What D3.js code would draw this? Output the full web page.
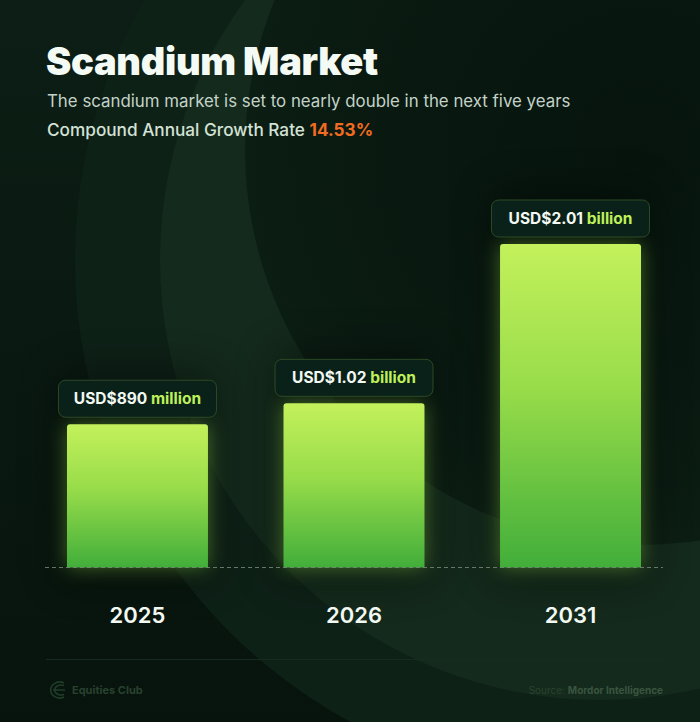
<!DOCTYPE html>
<html>
<head>
<meta charset="utf-8">
<script src="https://cdn.jsdelivr.net/npm/d3@7"></script>
<style>
  html, body { margin: 0; padding: 0; background: #0a1a12; }
  svg { display: block; font-family: Inter, "Noto Sans", sans-serif; }
</style>
</head>
<body>
<svg id="chart" width="700" height="722"></svg>
<script>
const years = ["2025", "2026", "2031"];
const values = [0.89, 1.02, 2.01]; // USD billion
const amountLabels = ["USD$890", "USD$1.02", "USD$2.01"];
const unitLabels = ["million", "billion", "billion"];

const width = 700;
const height = 722;
const margin = {top: 244, right: 37, bottom: 154.5, left: 45};

const svg = d3.select("#chart");
const defs = svg.append("defs");

// background
const bgGrad = defs.append("linearGradient")
    .attr("id", "bg").attr("x1", 0).attr("y1", 0).attr("x2", 0).attr("y2", 1);
bgGrad.append("stop").attr("offset", 0).attr("stop-color", "#0c1e15");
bgGrad.append("stop").attr("offset", 1).attr("stop-color", "#07140d");

const darkGrad = defs.append("radialGradient")
    .attr("id", "dark").attr("cx", 0.5).attr("cy", 0.5).attr("r", 0.5);
darkGrad.append("stop").attr("offset", 0).attr("stop-color", "#06140d");
darkGrad.append("stop").attr("offset", 0.85).attr("stop-color", "#0a1b12");
darkGrad.append("stop").attr("offset", 1).attr("stop-color", "#0c1e14");

svg.append("rect").attr("width", width).attr("height", height).attr("fill", "url(#bg)");

const bg = svg.append("g");
bg.append("circle").attr("cx", 600).attr("cy", 260).attr("r", 525).attr("fill", "#0e2117");
bg.append("circle").attr("cx", 600).attr("cy", 260).attr("r", 440).attr("fill", "#142a1c");
bg.append("circle").attr("cx", 640).attr("cy", 150).attr("r", 395).attr("fill", "url(#dark)");

// bar gradient + glow
const barGrad = defs.append("linearGradient")
    .attr("id", "barGrad").attr("x1", 0).attr("y1", 0).attr("x2", 0).attr("y2", 1);
barGrad.append("stop").attr("offset", 0).attr("stop-color", "#c3f15b");
barGrad.append("stop").attr("offset", 0.45).attr("stop-color", "#98dc4a");
barGrad.append("stop").attr("offset", 1).attr("stop-color", "#41ae3a");

defs.append("filter").attr("id", "glow")
    .attr("x", -0.5).attr("y", -0.5).attr("width", 2).attr("height", 2)
  .append("feGaussianBlur").attr("stdDeviation", 10);
defs.append("filter").attr("id", "shade")
    .attr("x", -0.6).attr("y", -0.6).attr("width", 2.2).attr("height", 2.2)
  .append("feGaussianBlur").attr("stdDeviation", 22);

const x = d3.scaleBand()
    .domain(years)
    .range([margin.left, width - margin.right])
    .paddingInner(0.349)
    .paddingOuter(0.1016);

const y = d3.scaleLinear()
    .domain([0, 2.01])
    .range([height - margin.bottom, margin.top]);

const data = years.map((d, i) => ({year: d, value: values[i], amount: amountLabels[i], unit: unitLabels[i]}));

// shadows and glows
svg.append("g").selectAll("rect")
  .data(data)
  .join("rect")
    .attr("x", d => x(d.year) - 6)
    .attr("y", d => y(d.value) - 50)
    .attr("width", x.bandwidth() + 12)
    .attr("height", d => y(0) - y(d.value) + 60)
    .attr("fill", "#000")
    .attr("opacity", 0.45)
    .attr("filter", "url(#shade)");

svg.append("g").selectAll("rect")
  .data(data)
  .join("rect")
    .attr("x", d => x(d.year))
    .attr("y", d => y(d.value))
    .attr("width", x.bandwidth())
    .attr("height", d => y(0) - y(d.value))
    .attr("fill", "#8fd94a")
    .attr("opacity", 0.45)
    .attr("filter", "url(#glow)");

// bars
svg.append("g").selectAll("path")
  .data(data)
  .join("path")
    .attr("d", d => {
      const x0 = x(d.year), x1 = x0 + x.bandwidth(), y0 = y(d.value), y1 = y(0), r = 3;
      return `M${x0},${y1}V${y0 + r}Q${x0},${y0} ${x0 + r},${y0}H${x1 - r}Q${x1},${y0} ${x1},${y0 + r}V${y1}Z`;
    })
    .attr("fill", "url(#barGrad)");

// baseline
svg.append("line")
    .attr("x1", margin.left).attr("x2", width - margin.right)
    .attr("y1", y(0)).attr("y2", y(0))
    .attr("stroke", "#7d8c80").attr("stroke-opacity", 0.8)
    .attr("stroke-dasharray", "4,3");

// value boxes
const boxW = 158, boxH = 37, gap = 7;
const labels = svg.append("g").selectAll("g")
  .data(data)
  .join("g")
    .attr("transform", d => `translate(${x(d.year) + x.bandwidth() / 2},${y(d.value) - gap - boxH})`);

labels.append("rect")
    .attr("x", -boxW / 2).attr("y", 0)
    .attr("width", boxW).attr("height", boxH)
    .attr("rx", 7)
    .attr("fill", "#0a2119")
    .attr("stroke", "#2c4a25")
    .attr("stroke-width", 1);

const lt = labels.append("text")
    .attr("x", 0).attr("y", boxH / 2 + 5.5)
    .attr("text-anchor", "middle")
    .attr("font-size", 15.5)
    .attr("font-weight", 700);
lt.append("tspan").attr("fill", "#f2f8f2").text(d => d.amount + " ");
lt.append("tspan").attr("fill", "#bff05a").text(d => d.unit);

// x axis labels
const xAxis = g => g
    .attr("transform", `translate(0,${y(0)})`)
    .call(d3.axisBottom(x).tickSize(0).tickPadding(0))
    .call(g => g.select(".domain").remove())
    .call(g => g.selectAll("text")
        .attr("y", 55.5)
        .attr("dy", 0)
        .attr("fill", "#f2f8f2")
        .attr("font-family", "Inter, sans-serif")
        .attr("font-size", 22)
        .attr("font-weight", 600));

svg.append("g").call(xAxis);

// titles
svg.append("text")
    .attr("x", 46).attr("y", 75)
    .attr("fill", "#f4fbf4")
    .attr("font-size", 38)
    .attr("font-weight", 900)
    .attr("letter-spacing", -0.3)
    .text("Scandium Market");

svg.append("text")
    .attr("x", 47).attr("y", 107)
    .attr("fill", "#c4d3c8")
    .attr("font-size", 16.85)
    .attr("font-weight", 400)
    .text("The scandium market is set to nearly double in the next five years");

const cagr = svg.append("text")
    .attr("x", 47).attr("y", 136)
    .attr("font-size", 17.2)
    .attr("font-weight", 500);
cagr.append("tspan").attr("fill", "#d4e2d6").text("Compound Annual Growth Rate ");
cagr.append("tspan").attr("fill", "#f26b21").attr("font-weight", 700).text("14.53%");

// footer
svg.append("line")
    .attr("x1", 46).attr("x2", 663)
    .attr("y1", 659.5).attr("y2", 659.5)
    .attr("stroke", "#172c1e");

const logo = svg.append("g")
    .attr("fill", "none")
    .attr("stroke", "#203c27")
    .attr("stroke-width", 1.6);
logo.append("path").attr("d", "M64,683 A9,8 0 1 0 64,697");
logo.append("path").attr("d", "M64,685.5 A6.5,5 0 1 0 64,694.5");
logo.append("line").attr("x1", 53).attr("x2", 65).attr("y1", 690).attr("y2", 690);

svg.append("text")
    .attr("x", 72).attr("y", 694)
    .attr("fill", "#28412e")
    .attr("font-size", 11)
    .attr("font-weight", 700)
    .text("Equities Club");

const src = svg.append("text")
    .attr("x", 663).attr("y", 694)
    .attr("text-anchor", "end")
    .attr("font-size", 10);
src.append("tspan").attr("fill", "#2a4230").text("Source: ");
src.append("tspan").attr("fill", "#3a5540").attr("font-weight", 700).text("Mordor Intelligence");
</script>
</body>
</html>
